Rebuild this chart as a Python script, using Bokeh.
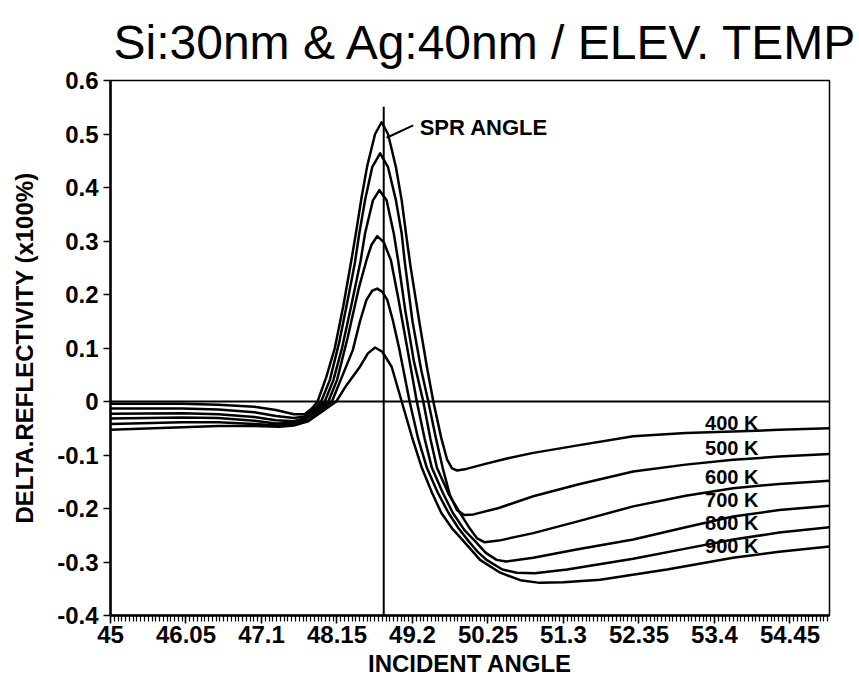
import numpy as np
from bokeh.plotting import figure
from bokeh.models import FixedTicker, Span, Label
from bokeh.core.properties import value
from bokeh.embed import file_html
from bokeh.resources import INLINE

# ---------------- data ----------------
title_text = "Si:30nm & Ag:40nm / ELEV. TEMP"
x_label = "INCIDENT ANGLE"
y_label = "DELTA.REFLECTIVITY (x100%)"

x_ticks = [45, 46.05, 47.1, 48.15, 49.2, 50.25, 51.3, 52.35, 53.4, 54.45]
x_tick_labels = ["45", "46.05", "47.1", "48.15", "49.2", "50.25", "51.3", "52.35", "53.4", "54.45"]
y_ticks = [-0.4, -0.3, -0.2, -0.1, 0, 0.1, 0.2, 0.3, 0.4, 0.5, 0.6]
y_tick_labels = ["-0.4", "-0.3", "-0.2", "-0.1", "0", "0.1", "0.2", "0.3", "0.4", "0.5", "0.6"]

temps = ["400 K", "500 K", "600 K", "700 K", "800 K", "900 K"]

angle_400 = [45.0, 46.0, 46.5, 47.0, 47.3, 47.55, 47.7, 47.8, 47.88, 48.0, 48.12, 48.24, 48.35, 48.42, 48.49,
             48.57, 48.68, 48.77, 48.86, 48.97, 49.05, 49.11, 49.17, 49.3, 49.4, 49.49, 49.6, 49.68, 49.75,
             49.82, 49.95, 50.2, 50.5, 50.88, 51.5, 52.27, 53.0, 53.66, 54.3, 55.0]
refl_400 = [-0.004, -0.004, -0.006, -0.010, -0.016, -0.024, -0.024, -0.013, 0.0, 0.045, 0.10, 0.18, 0.264, 0.32, 0.38,
            0.44, 0.50, 0.522, 0.50, 0.438, 0.376, 0.314, 0.255, 0.145, 0.065, 0.0, -0.068, -0.108, -0.125,
            -0.129, -0.126, -0.117, -0.107, -0.096, -0.082, -0.065, -0.059, -0.056, -0.053, -0.050]

angle_500 = [45.0, 46.0, 46.5, 47.0, 47.3, 47.55, 47.7, 47.82, 47.93, 48.05, 48.18, 48.3, 48.4, 48.46, 48.54,
             48.64, 48.75, 48.86, 48.97, 49.05, 49.09, 49.2, 49.32, 49.42, 49.52, 49.62, 49.72, 49.82, 49.92,
             50.05, 50.4, 50.88, 51.5, 52.27, 53.0, 53.66, 54.3, 55.0]
refl_500 = [-0.013, -0.013, -0.015, -0.020, -0.027, -0.031, -0.028, -0.015, 0.0, 0.04, 0.11, 0.19, 0.26, 0.314, 0.376,
            0.438, 0.464, 0.438, 0.376, 0.314, 0.264, 0.15, 0.06, 0.0, -0.065, -0.124, -0.175, -0.203, -0.212,
            -0.211, -0.199, -0.177, -0.155, -0.131, -0.118, -0.109, -0.103, -0.098]

angle_600 = [45.0, 46.0, 46.5, 47.0, 47.3, 47.55, 47.7, 47.85, 47.98, 48.1, 48.22, 48.35, 48.48, 48.54, 48.65,
             48.74, 48.84, 48.94, 49.0, 49.1, 49.22, 49.35, 49.45, 49.54, 49.7, 49.86, 50.0, 50.1, 50.2,
             50.4, 50.88, 51.5, 52.27, 53.0, 53.66, 54.3, 55.0]
refl_600 = [-0.023, -0.022, -0.024, -0.029, -0.035, -0.037, -0.031, -0.016, 0.0, 0.04, 0.10, 0.18, 0.264, 0.314, 0.376,
            0.395, 0.376, 0.314, 0.264, 0.17, 0.075, 0.0, -0.07, -0.124, -0.172, -0.208, -0.238, -0.256, -0.263,
            -0.260, -0.246, -0.224, -0.196, -0.176, -0.162, -0.154, -0.148]

angle_700 = [45.0, 46.0, 46.5, 47.0, 47.3, 47.55, 47.7, 47.87, 48.03, 48.15, 48.3, 48.45, 48.56, 48.63, 48.71,
             48.8, 48.9, 49.0, 49.1, 49.26, 49.37, 49.47, 49.62, 49.76, 49.92, 50.07, 50.22, 50.37, 50.5,
             50.88, 51.5, 52.27, 53.0, 53.66, 54.3, 55.0]
refl_700 = [-0.032, -0.030, -0.031, -0.036, -0.041, -0.040, -0.034, -0.017, 0.0, 0.04, 0.12, 0.21, 0.264, 0.293, 0.309,
            0.298, 0.264, 0.195, 0.12, 0.0, -0.07, -0.124, -0.17, -0.208, -0.24, -0.261, -0.283, -0.296, -0.299,
            -0.292, -0.276, -0.258, -0.235, -0.215, -0.203, -0.195]

angle_800 = [45.0, 46.0, 46.5, 47.0, 47.35, 47.55, 47.75, 47.9, 48.08, 48.2, 48.37, 48.47, 48.56, 48.64, 48.71,
             48.78, 48.85, 48.93, 49.02, 49.16, 49.28, 49.4, 49.55, 49.7, 49.84, 49.98, 50.1, 50.23, 50.45,
             50.65, 50.9, 51.35, 52.27, 53.0, 53.66, 54.3, 55.0]
refl_800 = [-0.042, -0.039, -0.039, -0.042, -0.045, -0.043, -0.035, -0.018, 0.0, 0.04, 0.096, 0.15, 0.19, 0.207, 0.211,
            0.205, 0.19, 0.15, 0.096, 0.0, -0.07, -0.124, -0.17, -0.208, -0.237, -0.261, -0.28, -0.296, -0.314,
            -0.320, -0.321, -0.314, -0.294, -0.275, -0.258, -0.245, -0.235]

angle_900 = [45.0, 46.0, 46.5, 47.0, 47.35, 47.55, 47.75, 47.95, 48.14, 48.28, 48.47, 48.58, 48.68, 48.78, 48.91,
             49.05, 49.19, 49.33, 49.47, 49.6, 49.75, 49.91, 50.14, 50.42, 50.7, 50.97, 51.3, 51.81, 52.74,
             53.66, 54.3, 55.0]
refl_900 = [-0.053, -0.048, -0.046, -0.046, -0.047, -0.045, -0.037, -0.018, 0.0, 0.03, 0.065, 0.09, 0.101, 0.093, 0.065,
            0.0, -0.065, -0.124, -0.17, -0.208, -0.237, -0.261, -0.296, -0.320, -0.334, -0.339, -0.338, -0.333, -0.314,
            -0.292, -0.281, -0.271]

spr_angle = 48.80
spr_top = 0.551

temp_label_x = 53.64
temp_label_y = [-0.040, -0.087, -0.141, -0.184, -0.228, -0.271]

# ---------------- figure ----------------
FONT = "Liberation Sans"

p = figure(width=859, height=684, x_range=(45, 55), y_range=(-0.4, 0.6),
           output_backend="svg", toolbar_location=None,
           min_border_left=110, min_border_right=30, min_border_top=80, min_border_bottom=69)
p.xgrid.visible = False
p.ygrid.visible = False
p.outline_line_color = "black"
p.outline_line_width = 1.5
p.background_fill_color = "white"
p.border_fill_color = "white"

p.title.text = title_text
p.title.text_font = FONT
p.title.text_font_size = "48px"
p.title.text_font_style = "normal"
p.title.text_color = "black"
p.title.align = "left"
p.title.offset = 3
p.title.standoff = 24

# x axis
p.xaxis.ticker = FixedTicker(ticks=x_ticks, minor_ticks=list(np.arange(45, 55.0001, 0.0525)))
p.xaxis.major_label_overrides = dict(zip(x_ticks, x_tick_labels))
p.xaxis.axis_label = x_label
p.xaxis.axis_line_width = 2.5
p.xaxis.major_tick_out = 8
p.xaxis.major_tick_in = 0
p.xaxis.minor_tick_out = 6
p.xaxis.minor_tick_in = 0
p.xaxis.major_tick_line_width = 1.5
p.xaxis.minor_tick_line_width = 1.2
p.xaxis.major_label_standoff = 2
p.xaxis.axis_label_standoff = 4

# y axis
p.yaxis.ticker = FixedTicker(ticks=y_ticks, minor_ticks=[])
p.yaxis.major_label_overrides = dict(zip(y_ticks, y_tick_labels))
p.yaxis.axis_label = y_label
p.yaxis.axis_line_width = 2.5
p.yaxis.major_tick_out = 7
p.yaxis.major_tick_in = 0
p.yaxis.minor_tick_out = 0
p.yaxis.minor_tick_in = 0
p.yaxis.major_tick_line_width = 1.5
p.yaxis.major_label_standoff = 5
p.yaxis.axis_label_standoff = 16

for ax in (p.xaxis[0], p.yaxis[0]):
    ax.axis_line_color = "black"
    ax.major_tick_line_color = "black"
    ax.minor_tick_line_color = "black"
    ax.major_label_text_font = FONT
    ax.major_label_text_font_size = "24px"
    ax.major_label_text_font_style = "bold"
    ax.major_label_text_color = "black"
    ax.axis_label_text_font = FONT
    ax.axis_label_text_font_size = "24px"
    ax.axis_label_text_font_style = "bold"
    ax.axis_label_text_color = "black"

# zero line and SPR angle marker
p.add_layout(Span(location=0, dimension="width", line_color="black", line_width=2))
p.segment(x0=[spr_angle], y0=[spr_top], x1=[spr_angle], y1=[-0.4], line_color="black", line_width=2)

# curves
for xs, ys in [(angle_400, refl_400), (angle_500, refl_500), (angle_600, refl_600),
               (angle_700, refl_700), (angle_800, refl_800), (angle_900, refl_900)]:
    p.line(xs, ys, line_color="black", line_width=2.5, line_join="round")

# temperature labels
p.text(x=[temp_label_x] * len(temps), y=temp_label_y, text=temps,
       text_font=value(FONT), text_font_style="bold", text_font_size="20px",
       text_align="center", text_baseline="middle", text_color="black")

# SPR ANGLE annotation
p.segment(x0=[49.21], y0=[0.516], x1=[48.84], y1=[0.493], line_color="black", line_width=2)
p.add_layout(Label(x=49.30, y=0.512, text="SPR ANGLE", text_font=FONT, text_font_style="bold",
                   text_font_size="22px", text_baseline="middle", text_color="black"))

open("out.html", "w").write(file_html(p, INLINE))
